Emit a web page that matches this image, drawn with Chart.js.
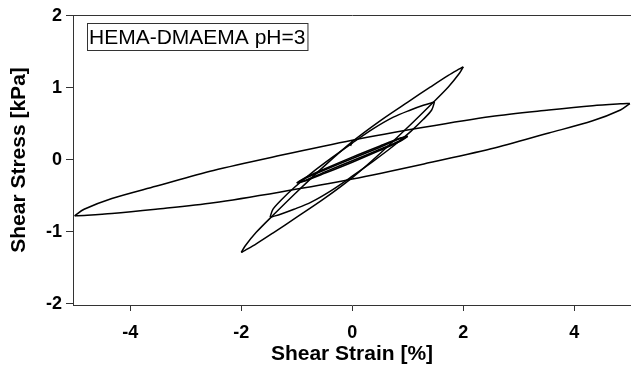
<!DOCTYPE html>
<html>
<head>
<meta charset="utf-8">
<script src="https://cdn.jsdelivr.net/npm/chart.js@4.4.1/dist/chart.umd.min.js"></script>
<style>
    html, body { margin: 0; padding: 0; background: #fff; }
    canvas { display: block; }
</style>
</head>
<body>
<canvas id="stressChart" width="631" height="367"></canvas>
<script>
// Lissajous loops (strain in %, stress in kPa).
// Each loop starts at its right tip, runs over the upper branch to the left tip and back along the lower branch.
const strain5 = [5.00, 4.83, 4.33, 3.54, 2.50, 1.29, 0, -1.29, -2.50, -3.54, -4.33, -4.83, -5.00,
                 -4.83, -4.33, -3.54, -2.50, -1.29, 0, 1.29, 2.50, 3.54, 4.33, 4.83, 5.00];
const stress5 = [0.78, 0.775, 0.75, 0.69, 0.60, 0.45, 0.27, 0.06, -0.15, -0.37, -0.54, -0.69, -0.78,
                 -0.775, -0.75, -0.69, -0.60, -0.45, -0.27, -0.06, 0.15, 0.37, 0.54, 0.69, 0.78];

const strain2 = [2.00, 1.93, 1.73, 1.41, 1.00, 0.52, 0, -0.52, -1.00, -1.41, -1.73, -1.93, -2.00,
                 -1.93, -1.73, -1.41, -1.00, -0.52, 0, 0.52, 1.00, 1.41, 1.73, 1.93, 2.00];
const stress2 = [1.29, 1.26, 1.17, 1.01, 0.80, 0.55, 0.25, -0.10, -0.45, -0.76, -1.01, -1.20, -1.29,
                 -1.26, -1.17, -1.01, -0.80, -0.55, -0.25, 0.10, 0.45, 0.76, 1.01, 1.20, 1.29];

const strain15 = [1.48, 1.43, 1.28, 1.05, 0.74, 0.38, 0, -0.38, -0.74, -1.05, -1.28, -1.43, -1.48,
                  -1.43, -1.28, -1.05, -0.74, -0.38, 0, 0.38, 0.74, 1.05, 1.28, 1.43, 1.48];
const stress15 = [0.80, 0.79, 0.755, 0.69, 0.59, 0.43, 0.23, 0.02, -0.19, -0.39, -0.56, -0.69, -0.80,
                  -0.79, -0.755, -0.69, -0.59, -0.43, -0.23, -0.02, 0.19, 0.39, 0.56, 0.69, 0.80];

const strain1a = [1.00, 0.87, 0.50, 0, -0.50, -0.87, -1.00, -0.87, -0.50, 0, 0.50, 0.87, 1.00];
const stress1a = [0.325, 0.30, 0.19, 0.035, -0.13, -0.26, -0.325, -0.30, -0.19, -0.035, 0.13, 0.26, 0.325];

const strain1b = [0.98, 0.85, 0.49, 0, -0.49, -0.85, -0.98, -0.85, -0.49, 0, 0.49, 0.85, 0.98];
const stress1b = [0.32, 0.29, 0.17, 0.015, -0.14, -0.26, -0.32, -0.29, -0.17, -0.015, 0.14, 0.26, 0.32];

// small start-up hook on the 2% loop near zero strain
const strainHook = [-0.03, 0.0];
const stressHook = [0.19, 0.26];

const xTicks = [-4, -2, 0, 2, 4];
const yTicks = [-2, -1, 0, 1, 2];

const sampleLabel = 'HEMA-DMAEMA pH=3';
const xTitle = 'Shear Strain [%]';
const yTitle = 'Shear Stress [kPa]';

const FONT = "'Liberation Sans', Arial, Helvetica, sans-serif";

function toPoints(xs, ys) {
    return xs.map((x, i) => ({ x: x, y: ys[i] }));
}

// split a loop into its two branches so both tips stay pointed
function branches(xs, ys) {
    const mid = Math.floor(xs.length / 2);
    return [toPoints(xs.slice(0, mid + 1), ys.slice(0, mid + 1)),
            toPoints(xs.slice(mid), ys.slice(mid))];
}

function lineSet(points, width) {
    return {
        data: points,
        showLine: true,
        borderColor: '#000',
        borderWidth: width,
        pointRadius: 0,
        tension: 0.3,
        fill: false
    };
}

const datasets = [];
[[strain5, stress5], [strain2, stress2], [strain15, stress15]].forEach(([xs, ys]) => {
    branches(xs, ys).forEach(b => datasets.push(lineSet(b, 1.5)));
});
[[strain1a, stress1a], [strain1b, stress1b]].forEach(([xs, ys]) => {
    branches(xs, ys).forEach(b => datasets.push(lineSet(b, 1.6)));
});
datasets.push(Object.assign(lineSet(toPoints(strainHook, stressHook), 1.3), { tension: 0 }));

// Boxed sample label in the upper left corner
const labelBox = {
    id: 'labelBox',
    afterDraw(chart) {
        const c = chart.ctx;
        c.save();
        c.font = '21px ' + FONT;
        const w = c.measureText(sampleLabel).width;
        c.strokeStyle = '#333';
        c.lineWidth = 1;
        c.strokeRect(87.5, 23.5, w + 4, 27);
        c.fillStyle = '#000';
        c.textBaseline = 'alphabetic';
        c.textAlign = 'left';
        c.fillText(sampleLabel, 89, 43.5);
        c.restore();
    }
};

const ctx = document.getElementById('stressChart').getContext('2d');
const chart = new Chart(ctx, {
    type: 'scatter',
    data: { datasets: datasets },
    options: {
        responsive: false,
        animation: false,
        devicePixelRatio: 1,
        layout: { padding: { top: 15, right: 0, bottom: 0, left: 0 } },
        plugins: {
            legend: { display: false },
            tooltip: { enabled: false }
        },
        scales: {
            x: {
                type: 'linear',
                position: 'bottom',
                min: -5.03,
                max: 5.02,
                afterFit: s => { s.height = 62; },
                afterBuildTicks: s => { s.ticks = xTicks.map(v => ({ value: v })); },
                ticks: {
                    includeBounds: false,
                    padding: 11,
                    color: '#000',
                    font: { family: FONT, size: 18, weight: 'bold' }
                },
                grid: { drawOnChartArea: false, drawTicks: true, tickLength: 6, color: '#333', tickWidth: 1 },
                border: { display: true, color: '#333', width: 1 },
                title: {
                    display: true,
                    text: xTitle,
                    color: '#000',
                    padding: { top: 0, bottom: 0 },
                    font: { family: FONT, size: 21, weight: 'bold' }
                }
            },
            xTop: {
                type: 'linear',
                position: 'top',
                min: -5.03,
                max: 5.02,
                afterFit: s => { s.height = 0; },
                ticks: { display: false },
                grid: { drawOnChartArea: false, drawTicks: false },
                border: { display: true, color: '#333', width: 1 }
            },
            y: {
                type: 'linear',
                position: 'left',
                min: -2.02,
                max: 2.01,
                afterFit: s => { s.width = 73; },
                afterBuildTicks: s => { s.ticks = yTicks.map(v => ({ value: v })); },
                ticks: {
                    includeBounds: false,
                    padding: 4,
                    color: '#000',
                    font: { family: FONT, size: 18, weight: 'bold' }
                },
                grid: { drawOnChartArea: false, drawTicks: true, tickLength: 7, color: '#333', tickWidth: 1 },
                border: { display: true, color: '#333', width: 1 },
                title: {
                    display: true,
                    text: yTitle,
                    color: '#000',
                    padding: { top: 7, bottom: 0 },
                    font: { family: FONT, size: 21, weight: 'bold' }
                }
            }
        }
    },
    plugins: [labelBox]
});
</script>
</body>
</html>
